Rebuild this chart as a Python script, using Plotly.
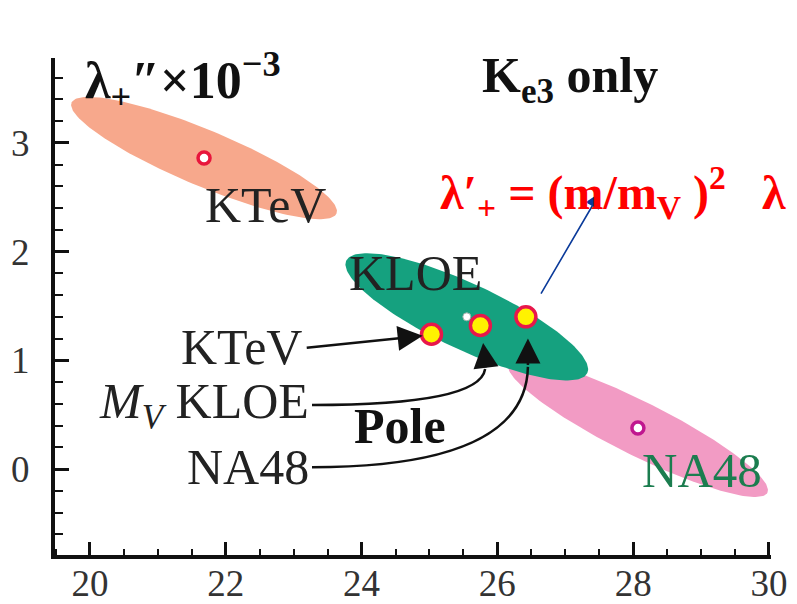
import numpy as np
import plotly.graph_objects as go

# ---------------- data ----------------
# confidence ellipses: centre, major half-vector, minor half-vector (data units)
ell_names = ["KTeV", "NA48", "KLOE"]
ell_cx = [21.68, 28.07, 25.55]
ell_cy = [2.86, 0.377, 1.40]
ell_ax = [1.951, 1.907, 1.775]
ell_ay = [-0.510, -0.594, -0.517]
ell_bx = [0.159, 0.177, 0.205]
ell_by = [0.238, 0.222, 0.275]
ell_colors = ["#F7A88C", "#F29BC4", "#15A17F"]

# central values of the fits
ktev_pt = (21.68, 2.86)
na48_pt = (28.07, 0.377)
kloe_pt = (25.55, 1.40)

# pole-model (M_V) predictions
pole_labels = ["KTeV", "M_V KLOE", "NA48"]
pole_x = [25.03, 25.75, 26.42]
pole_y = [1.24, 1.32, 1.40]

x_ticks = [20, 22, 24, 26, 28, 30]
y_ticks = [0, 1, 2, 3]

SERIF = "Liberation Serif"
DARK = "#222222"

fig = go.Figure()

t = np.linspace(0, 2 * np.pi, 200)
for i in range(3):
    xs = ell_cx[i] + ell_ax[i] * np.cos(t) + ell_bx[i] * np.sin(t)
    ys = ell_cy[i] + ell_ay[i] * np.cos(t) + ell_by[i] * np.sin(t)
    fig.add_trace(go.Scatter(x=xs, y=ys, mode="lines", fill="toself",
                             fillcolor=ell_colors[i], line=dict(width=0),
                             hoverinfo="skip", showlegend=False))

# central values
fig.add_trace(go.Scatter(x=[ktev_pt[0]], y=[ktev_pt[1]], mode="markers",
                         marker=dict(size=12, color="white", line=dict(color="#E8163C", width=3.5)),
                         showlegend=False))
fig.add_trace(go.Scatter(x=[na48_pt[0]], y=[na48_pt[1]], mode="markers",
                         marker=dict(size=12, color="white", line=dict(color="#C0178F", width=3.5)),
                         showlegend=False))
fig.add_trace(go.Scatter(x=[kloe_pt[0]], y=[kloe_pt[1]], mode="markers",
                         marker=dict(size=8, color="white", line=dict(color="#9AAFA8", width=1)),
                         showlegend=False))
# pole points
fig.add_trace(go.Scatter(x=pole_x, y=pole_y, mode="markers",
                         marker=dict(size=20, color="#FFF200", line=dict(color="#E8174B", width=3.5)),
                         showlegend=False))

# ---------------- annotations ----------------
ann = []
lab_font = dict(family=SERIF, size=50, color=DARK)
ann.append(dict(x=22.58, y=2.43, text="KTeV", showarrow=False, font=lab_font))
ann.append(dict(x=24.79, y=1.80, text="KLOE", showarrow=False, font=lab_font))
ann.append(dict(x=29.01, y=-0.01, text="NA48", showarrow=False,
                font=dict(family=SERIF, size=49, color="#1B7D4F")))
ann.append(dict(x=23.15, y=1.12, text="KTeV", showarrow=False, xanchor="right", font=lab_font))
ann.append(dict(x=23.25, y=0.59, text="<i>M<sub>V</sub></i> KLOE", showarrow=False,
                xanchor="right", font=lab_font))
ann.append(dict(x=23.25, y=0.02, text="NA48", showarrow=False, xanchor="right", font=lab_font))
ann.append(dict(x=24.57, y=0.40, text="<b>Pole</b>", showarrow=False,
                font=dict(family=SERIF, size=50, color="#111111")))

# KTeV straight arrow
ann.append(dict(x=24.90, y=1.225, ax=23.17, ay=1.115, axref="x", ayref="y",
                xref="x", yref="y", text="", showarrow=True, arrowhead=2,
                arrowwidth=2.5, arrowsize=2.0, arrowcolor="#111111"))
# arrowheads of curved arrows
ann.append(dict(x=pole_x[1] + 0.04, y=1.16, ax=3, ay=26, text="", showarrow=True,
                arrowhead=2, arrowwidth=2.5, arrowsize=2.0, arrowcolor="#111111"))
ann.append(dict(x=pole_x[2] + 0.03, y=1.20, ax=0, ay=28, text="", showarrow=True,
                arrowhead=2, arrowwidth=2.5, arrowsize=2.0, arrowcolor="#111111"))
# blue arrow
ann.append(dict(x=27.51, y=2.54, ax=26.63, ay=1.60, axref="x", ayref="y",
                text="", showarrow=True, arrowhead=2, arrowwidth=1.6,
                arrowsize=1.9, arrowcolor="#0A3A9A"))

# titles
ann.append(dict(x=0.039, y=1.032, xref="paper", yref="paper", xanchor="left",
                text="<b>λ<sub>+</sub>″×10<sup>−3</sup></b>", showarrow=False,
                font=dict(family=SERIF, size=52, color="#111111")))
ann.append(dict(x=0.594, y=1.026, xref="paper", yref="paper", xanchor="left",
                text="<b>K<sub>e3</sub> only</b>", showarrow=False,
                font=dict(family=SERIF, size=50, color="#111111")))
ann.append(dict(x=0.535, y=0.80, xref="paper", yref="paper", xanchor="left",
                text="<b>λ′<sub>+</sub> = (m/m<sub>V</sub> )<sup>2</sup>\u00a0\u00a0 λ″</b>",
                showarrow=False, font=dict(family=SERIF, size=48, color="#FF0000")))

# curved arrow shafts
shapes = [
    dict(type="path", xref="x", yref="y",
         path="M 23.27,0.589 Q 25.74,0.589 25.82,0.92",
         line=dict(color="#111111", width=2.5)),
    dict(type="path", xref="x", yref="y",
         path="M 23.27,0.018 Q 26.42,0.018 26.45,0.94",
         line=dict(color="#111111", width=2.5)),
]

# page body has an 8 px default margin, so the figure is offset by 8 px
fig.update_layout(
    width=797, height=604,
    margin=dict(l=47, r=34, t=50, b=57),
    plot_bgcolor="white", paper_bgcolor="white",
    annotations=ann, shapes=shapes,
    showlegend=False,
    xaxis=dict(range=[19.485, 30.03], tickvals=x_ticks, ticks="inside",
               ticklen=13, tickwidth=2.5, tickcolor="#111111", automargin=False,
               showline=True, linewidth=4, linecolor="#111111",
               showgrid=False, zeroline=False, mirror=False,
               tickfont=dict(family=SERIF, size=37, color="#333333"),
               ticklabelstandoff=-7,
               minor=dict(dtick=0.5, tick0=20, ticks="inside", ticklen=6,
                          tickwidth=2, tickcolor="#111111")),
    yaxis=dict(range=[-0.79, 3.78], tickvals=y_ticks, ticks="inside",
               ticklen=14, tickwidth=2.5, tickcolor="#111111", automargin=False,
               showline=True, linewidth=4, linecolor="#111111",
               showgrid=False, zeroline=False,
               tickfont=dict(family=SERIF, size=37, color="#333333"),
               ticklabelstandoff=14,
               minor=dict(dtick=0.2, tick0=0, ticks="inside", ticklen=8,
                          tickwidth=2, tickcolor="#111111")),
)

fig.write_html("out.html")
